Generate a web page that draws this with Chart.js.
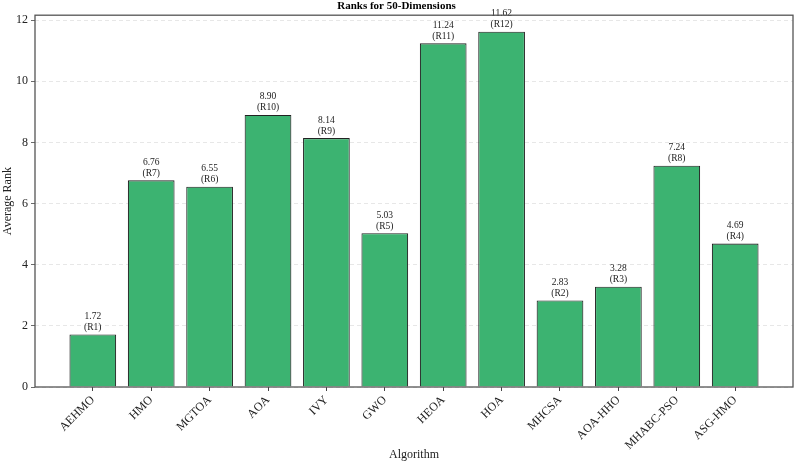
<!DOCTYPE html>
<html><head><meta charset="utf-8">
<script src="https://cdn.jsdelivr.net/npm/chart.js@4/dist/chart.umd.min.js"></script>
<style>html,body{margin:0;padding:0;background:#fff}#wrap{width:794px;height:465px}</style>
</head><body><div id="wrap"><canvas id="c" width="794" height="465"></canvas></div>
<script>
const categories = ["AEHMO","HMO","MGTOA","AOA","IVY","GWO","HEOA","HOA","MHCSA","AOA-HHO","MHABC-PSO","ASG-HMO"];
const avgRanks = [1.72, 6.76, 6.55, 8.90, 8.14, 5.03, 11.24, 11.62, 2.83, 3.28, 7.24, 4.69];
const rankLabels = ["R1","R7","R6","R10","R9","R5","R11","R12","R2","R3","R8","R4"];
const yTicks = [0,2,4,6,8,10,12];

const FONT = "'Liberation Serif', 'DejaVu Serif', serif";

const frame = {
  id:'frame',
  afterDraw(chart){
    const {ctx, chartArea:a} = chart;
    ctx.save(); ctx.strokeStyle='#555'; ctx.lineWidth=1.3;
    ctx.strokeRect(a.left, a.top, a.right-a.left, a.bottom-a.top);
    ctx.restore();
  }
};
const barLabels = {
  id:'barLabels',
  afterDatasetsDraw(chart){
    const {ctx} = chart;
    const meta = chart.getDatasetMeta(0);
    ctx.save();
    ctx.font = "9.5px " + FONT; ctx.fillStyle='#222'; ctx.textAlign='center'; ctx.textBaseline='middle';
    meta.data.forEach((bar,i)=>{
      ctx.fillText(avgRanks[i].toFixed(2), bar.x, bar.y-18);
      ctx.fillText('('+rankLabels[i]+')', bar.x, bar.y-7);
    });
    ctx.restore();
  }
};

new Chart(document.getElementById('c'), {
  type:'bar',
  data:{ datasets:[{
    data: avgRanks.map((v,i)=>({x:i,y:v})),
    backgroundColor:'#3CB371', borderColor:'#222', borderWidth:1.1,
    barPercentage:0.8, categoryPercentage:1.0
  }]},
  options:{
    responsive:false, animation:false,
    layout:{padding:{left:0,right:1,top:0,bottom:0}},
    plugins:{
      legend:{display:false}, tooltip:{enabled:false},
      title:{display:true, text:'Ranks for 50-Dimensions', color:'#000',
        font:{family:FONT, size:11, weight:'bold'}, padding:{top:0,bottom:2}}
    },
    scales:{
      x:{ type:'linear', min:-0.99, max:11.99, offset:false,
        afterBuildTicks(s){ s.ticks = categories.map((_,i)=>({value:i})); },
        afterFit(s){ s.height = 78; },
        ticks:{ autoSkip:false, maxRotation:45, minRotation:45, color:'#222', padding:2,
          font:{family:FONT, size:12},
          callback:(v)=>categories[v] },
        grid:{ offset:false, drawOnChartArea:false, drawTicks:true, tickLength:4, tickColor:'#444', tickWidth:1 },
        border:{display:false},
        title:{display:true, text:'Algorithm', color:'#222', font:{family:FONT,size:12}, padding:{top:0,bottom:3}}
      },
      y:{ min:0, max:12.16,
        afterBuildTicks(s){ s.ticks = yTicks.map(v=>({value:v})); },
        afterFit(s){ s.width = 35; },
        ticks:{ color:'#222', padding:3, font:{family:FONT,size:12} },
        grid:{ color:'rgba(0,0,0,0.12)', tickColor:'#444', tickLength:4, tickBorderDash:[], lineWidth:0.8 },
        border:{display:false, dash:[4,3]},
        title:{display:true, text:'Average Rank', color:'#222', font:{family:FONT,size:12}, padding:{top:1,bottom:0}}
      }
    }
  },
  plugins:[frame, barLabels]
});
</script></body></html>
